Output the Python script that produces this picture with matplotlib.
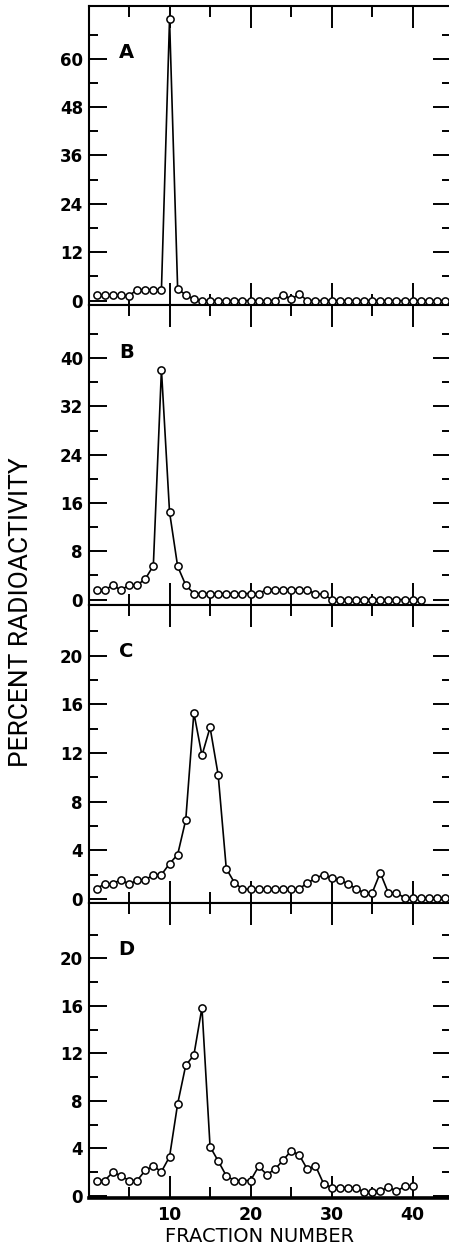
import matplotlib
matplotlib.use("Agg")
import matplotlib.pyplot as plt
import numpy as np
from matplotlib.ticker import MultipleLocator, FixedLocator

# ---- data ----
fractions_A = list(range(1, 45))
activity_A = [1.3, 1.3, 1.3, 1.3, 1.2, 2.7, 2.7, 2.7, 2.7, 69.8,
              2.9, 1.4, 0.3, 0, 0, 0, 0, 0, 0, 0,
              0, 0, 0, 1.5, 0.3, 1.6, 0, 0, 0, 0,
              0, 0, 0, 0, 0, 0, 0, 0, 0, 0,
              0, 0, 0, 0]

fractions_B = list(range(1, 42))
activity_B = [1.55, 1.55, 2.4, 1.55, 2.4, 2.4, 3.4, 5.6, 38.1, 14.5,
              5.5, 2.4, 1.0, 1.0, 1.0, 1.0, 1.0, 1.0, 1.0, 1.0,
              1.0, 1.65, 1.65, 1.65, 1.65, 1.65, 1.65, 0.9, 0.9, 0,
              0, 0, 0, 0, 0, 0, 0, 0, 0, 0, 0]

fractions_C = list(range(1, 45))
activity_C = [0.85, 1.25, 1.25, 1.6, 1.2, 1.55, 1.55, 2.0, 2.0, 2.9,
              3.65, 6.5, 15.3, 11.8, 14.1, 10.2, 2.5, 1.35, 0.8, 0.8,
              0.8, 0.8, 0.8, 0.8, 0.8, 0.85, 1.3, 1.7, 2.0, 1.7,
              1.55, 1.25, 0.85, 0.5, 0.5, 2.15, 0.5, 0.5, 0.1, 0.1,
              0.1, 0.1, 0.1, 0.1]

fractions_D = list(range(1, 41))
activity_D = [1.3, 1.3, 2.0, 1.7, 1.3, 1.3, 2.15, 2.5, 2.05, 3.3,
              7.75, 11.0, 11.85, 15.85, 4.15, 2.95, 1.7, 1.3, 1.3, 1.3,
              2.5, 1.8, 2.25, 3.0, 3.8, 3.45, 2.25, 2.55, 1.05, 0.7,
              0.7, 0.7, 0.7, 0.3, 0.35, 0.4, 0.75, 0.4, 0.8, 0.8]

panel_labels = ["A", "B", "C", "D"]
y_major_steps = [12, 8, 4, 4]
y_label_max = [60, 40, 20, 20]
x_tick_labels = ["10", "20", "30", "40"]
x_major = [10, 20, 30, 40]
x_minor = [5, 15, 25, 35]

# ---- layout ----
W, H = 449, 1250
fig = plt.figure(figsize=(W / 100, H / 100), dpi=100)

panel_px = [(6, 305), (305, 605), (605, 903), (903, 1198)]
ylims = [(-1.1, 73.1), (-0.9, 48.8), (-0.33, 24.16), (-0.17, 24.66)]
left_px, right_px = 88.5, 451
xlim = (0, 44.73)

series = [(fractions_A, activity_A), (fractions_B, activity_B),
          (fractions_C, activity_C), (fractions_D, activity_D)]

for i, ((top, bot), (fx, fy)) in enumerate(zip(panel_px, series)):
    ax = fig.add_axes([left_px / W, 1 - bot / H,
                       (right_px - left_px) / W, (bot - top) / H])
    ax.plot(fx, fy, color="black", lw=1.2, marker="o", ms=5.2,
            mfc="white", mec="black", mew=1.1, zorder=3, clip_on=False)
    ax.set_xlim(*xlim)
    ax.set_ylim(*ylims[i])
    step = y_major_steps[i]
    ax.yaxis.set_major_locator(FixedLocator(np.arange(0, y_label_max[i] + 1, step)))
    ax.yaxis.set_minor_locator(FixedLocator(np.arange(step / 2, ylims[i][1], step)))
    ax.xaxis.set_major_locator(FixedLocator(x_major))
    ax.xaxis.set_minor_locator(FixedLocator(x_minor))
    ax.tick_params(axis="y", which="major", direction="in", length=13, width=1.4,
                   left=True, right=True, labelsize=12, pad=4)
    ax.tick_params(axis="y", which="minor", direction="in", length=6.5, width=1.4,
                   left=True, right=True)
    ax.tick_params(axis="x", which="major", direction="in", length=16, width=1.4,
                   top=True, bottom=True, labelsize=12, pad=6)
    ax.tick_params(axis="x", which="minor", direction="in", length=8, width=1.4,
                   top=True, bottom=True)
    for lab in ax.get_yticklabels():
        lab.set_fontweight("bold")
        lab.set_family("DejaVu Sans")
    if i < 3:
        ax.tick_params(axis="x", labelbottom=False)
    else:
        ax.set_xticklabels(x_tick_labels, fontsize=12.5, fontweight="bold")
    for s in ax.spines.values():
        s.set_linewidth(1.5)
    if i == 3:
        ax.spines["bottom"].set_linewidth(2.6)
    ax.text(0.105, 0.843, panel_labels[i], transform=ax.transAxes,
            ha="center", va="center", fontsize=14, fontweight="bold",
            family="DejaVu Sans")

fig.text(260 / W, 1 - 1237 / H, "FRACTION NUMBER", ha="center", va="center",
         fontsize=14, family="DejaVu Sans")
fig.text(21 / W, 1 - 612 / H, "PERCENT RADIOACTIVITY", ha="center", va="center",
         rotation=90, fontsize=19, family=["Roboto", "DejaVu Sans"])

fig.savefig("out.png", dpi=100)
